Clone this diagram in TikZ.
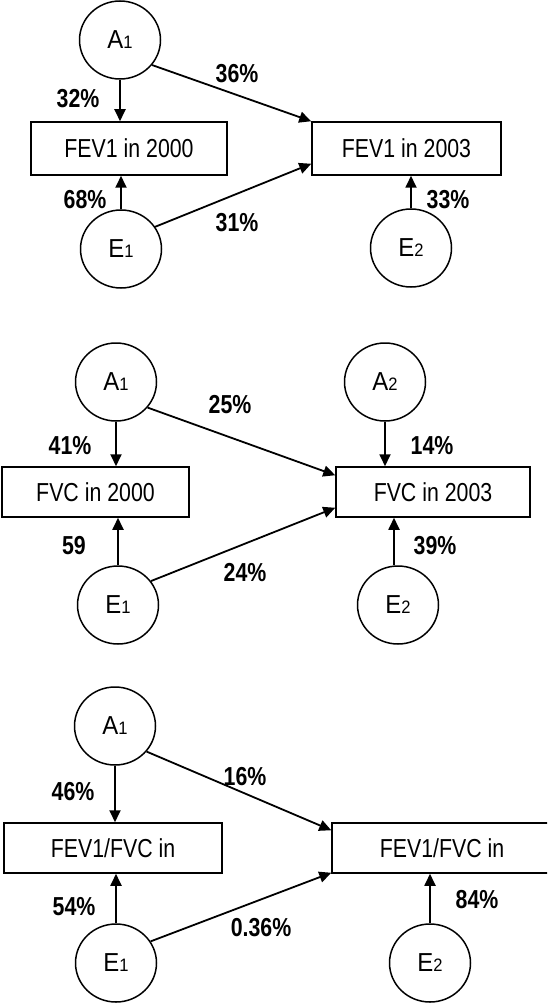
\documentclass[tikz,border=0pt]{standalone}
\usepackage{fontspec}
\setmainfont{Liberation Sans}[FakeStretch=0.82]
\newfontfamily\circlefont{Liberation Sans}[FakeStretch=0.92]
\usetikzlibrary{arrows.meta,shapes.geometric,calc}
\tikzset{
  latent/.style={draw, ellipse, line width=1.5pt, minimum width=81pt, minimum height=78pt, inner sep=0pt, font=\circlefont\fontsize{26}{28}\selectfont},
  measured/.style={draw, rectangle, line width=1.5pt, inner sep=0pt, font=\fontsize{26}{30}\selectfont},
  pct/.style={font=\fontsize{26}{30}\selectfont\bfseries, inner sep=0pt},
  path/.style={line width=1.8pt, -{Triangle[length=12pt,width=11pt]}}
}
\newcommand{\sub}[1]{{\fontsize{18}{18}\selectfont #1}}
\begin{document}
\begin{tikzpicture}[x=1pt,y=-1pt]
\useasboundingbox (0,0) rectangle (547,1003);
\clip (0,0) rectangle (547,1003);
% ---------- Panel 1 ----------
\node[latent] (pA1) at (120,40) {A\sub{1}};
\node[latent] (pE1) at (121,249) {E\sub{1}};
\node[latent] (pE2) at (411,248) {E\sub{2}};
\node[measured, minimum width=196pt, minimum height=53pt] (pL) at (129,148.5) {FEV1 in 2000};
\node[measured, minimum width=189pt, minimum height=53pt] (pR) at (406.5,148.5) {FEV1 in 2003};
\draw[path] (pA1.south) -- (pA1.south |- pL.north);
\draw[path] (pA1.-38) -- (pR.north west);
\draw[path] (pE1.north) -- (pE1.north |- pL.south);
\draw[path] (pE1.33) -- ([yshift=12pt]pR.south west);
\draw[path] (pE2.north) -- (pE2.north |- pR.south);
\node[pct] (p32) at (78,99) {32\%};
\node[pct] (p36) at (237,74) {36\%};
\node[pct] (p68) at (85,200) {68\%};
\node[pct] (p31) at (237,223) {31\%};
\node[pct] (p33) at (448,200) {33\%};
% ---------- Panel 2 ----------
\node[latent] (qA1) at (116,382) {A\sub{1}};
\node[latent] (qA2) at (385,382) {A\sub{2}};
\node[latent] (qE1) at (118,605) {E\sub{1}};
\node[latent] (qE2) at (398,605) {E\sub{2}};
\node[measured, minimum width=187pt, minimum height=50pt] (qL) at (95.5,492) {FVC in 2000};
\node[measured, minimum width=194pt, minimum height=50pt] (qR) at (433,492) {FVC in 2003};
\draw[path] (qA1.south) -- (qA1.south |- qL.north);
\draw[path] (qA1.-39) -- ([yshift=-9pt]qR.north west);
\draw[path] (qE1.north) -- (qE1.north |- qL.south);
\draw[path] (qE1.36) -- ([yshift=10pt]qR.south west);
\draw[path] (qA2.south) -- (qA2.south |- qR.north);
\draw[path] ([xshift=-4pt]qE2.north) -- ([xshift=-4pt]qE2.north |- qR.south);
\node[pct] (q25) at (230,405) {25\%};
\node[pct] (q41) at (70,446) {41\%};
\node[pct] (q14) at (432,446) {14\%};
\node[pct] (q59) at (74,546) {59};
\node[pct] (q24) at (245,573) {24\%};
\node[pct] (q39) at (435,546) {39\%};
% ---------- Panel 3 ----------
\node[latent] (rA1) at (115,726) {A\sub{1}};
\node[latent] (rE1) at (116,963) {E\sub{1}};
\node[latent] (rE2) at (430,963) {E\sub{2}};
\node[measured, minimum width=218pt, minimum height=50pt] (rL) at (113,848) {FEV1/FVC in};
\node[measured, minimum width=220pt, minimum height=50pt] (rR) at (442,848) {FEV1/FVC in};
\draw[path] (rA1.south) -- (rA1.south |- rL.north);
\draw[path] (rA1.-39) -- ([yshift=-8pt]rR.north west);
\draw[path] (rE1.north) -- (rE1.north |- rL.south);
\draw[path] (rE1.32) -- ([yshift=1pt]rR.south west);
\draw[path] (rE2.north) -- (rE2.north |- rR.south);
\node[pct] (r46) at (73,792) {46\%};
\node[pct] (r16) at (245,777) {16\%};
\node[pct] (r54) at (74,907) {54\%};
\node[pct] (r036) at (261,928) {0.36\%};
\node[pct] (r84) at (477,900) {84\%};
\end{tikzpicture}
\end{document}
